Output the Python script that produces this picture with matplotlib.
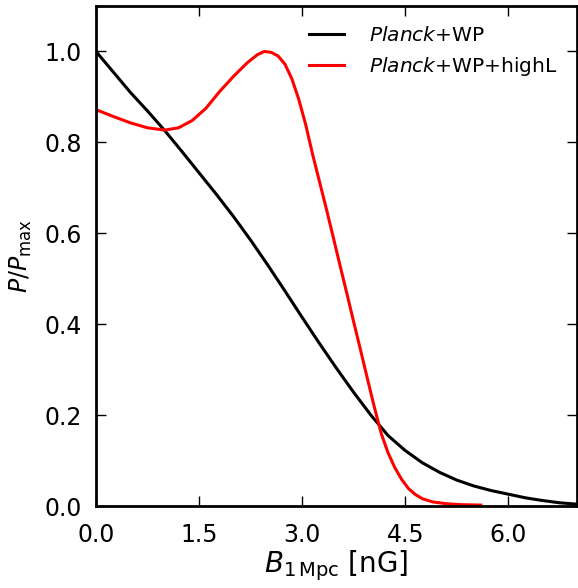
import matplotlib
matplotlib.use("Agg")
import matplotlib.pyplot as plt

# P/Pmax curves
b_wp = [0.0, 0.25, 0.5, 0.75, 1.0, 1.25, 1.5, 1.75, 2.0, 2.25, 2.5, 2.75, 3.0,
        3.25, 3.5, 3.75, 4.0, 4.25, 4.5, 4.75, 5.0, 5.25, 5.5, 5.75, 6.0,
        6.25, 6.5, 6.75, 7.0]
p_wp = [1.0, 0.955, 0.91, 0.869, 0.826, 0.78, 0.733, 0.686, 0.637, 0.585,
        0.53, 0.473, 0.415, 0.358, 0.303, 0.25, 0.2, 0.155, 0.122, 0.095,
        0.074, 0.057, 0.044, 0.034, 0.026, 0.018, 0.012, 0.007, 0.004]

b_hl = [0.0, 0.25, 0.5, 0.75, 1.0, 1.2, 1.4, 1.6, 1.8, 2.0, 2.2, 2.35, 2.45,
        2.55, 2.65, 2.75, 2.85, 2.95, 3.05, 3.15, 3.25, 3.35, 3.45, 3.55, 3.65,
        3.75, 3.85, 3.95, 4.05, 4.15, 4.25, 4.35, 4.45, 4.55, 4.65, 4.75, 4.9,
        5.1, 5.3, 5.6]
p_hl = [0.872, 0.857, 0.843, 0.832, 0.827, 0.832, 0.848, 0.875, 0.912, 0.945,
        0.975, 0.993, 1.0, 0.998, 0.99, 0.972, 0.94, 0.895, 0.84, 0.775, 0.715,
        0.655, 0.593, 0.53, 0.468, 0.405, 0.343, 0.28, 0.218, 0.16, 0.117,
        0.084, 0.058, 0.038, 0.025, 0.016, 0.009, 0.005, 0.003, 0.002]

labels = [r"$\mathit{Planck}$+WP", r"$\mathit{Planck}$+WP+highL"]
xticks = [0.0, 1.5, 3.0, 4.5, 6.0]
yticks = [0.0, 0.2, 0.4, 0.6, 0.8, 1.0]

plt.rcParams["mathtext.fontset"] = "dejavusans"

fig = plt.figure(figsize=(5.78, 5.88), dpi=100)
ax = fig.add_axes([96/578, 82/588, 481/578, 500/588])

ax.plot(b_wp, p_wp, color="black", lw=2.2, label=labels[0])
ax.plot(b_hl, p_hl, color="red", lw=2.2, label=labels[1])

ax.set_xlim(0, 7)
ax.set_ylim(0, 1.1)
ax.set_xticks(xticks)
ax.set_xticklabels(["%.1f" % t for t in xticks])
ax.set_yticks(yticks)
ax.set_yticklabels(["%.1f" % t for t in yticks])
ax.tick_params(direction="in", top=True, right=True, length=7, width=1,
               labelsize=17)
ax.tick_params(axis="x", pad=12)
ax.tick_params(axis="y", pad=10)
for s in ax.spines.values():
    s.set_linewidth(2)

ax.set_xlabel(r"$B_{1\,\mathrm{Mpc}}$ [nG]", fontsize=20, labelpad=1)
ax.set_ylabel(r"$P/P_{\mathrm{max}}$", fontsize=17, labelpad=8)

ax.legend(loc="upper right", frameon=False, fontsize=14.5, handlelength=1.75,
          handletextpad=1.2, borderaxespad=0.6, labelspacing=0.5)

fig.savefig("out.png", dpi=100)
